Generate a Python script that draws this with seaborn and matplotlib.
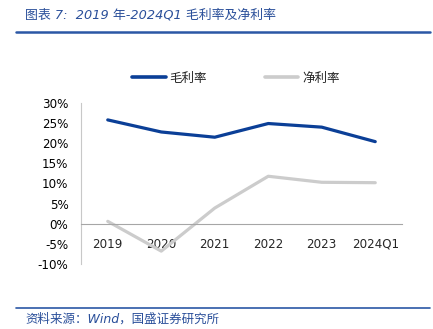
import matplotlib
matplotlib.use("Agg")
import matplotlib.pyplot as plt
from matplotlib.lines import Line2D
from matplotlib.ticker import FuncFormatter, FixedLocator
import seaborn as sns
import pandas as pd

# Margin data, 2019 - 2024Q1
periods = ["2019", "2020", "2021", "2022", "2023", "2024Q1"]
gross_margin = [0.258, 0.228, 0.215, 0.249, 0.240, 0.204]
net_margin = [0.006, -0.068, 0.039, 0.118, 0.103, 0.102]
series_names = ["毛利率", "净利率"]
series_colors = ["#0B3F97", "#CCCCCC"]
y_ticks = [-0.10, -0.05, 0.0, 0.05, 0.10, 0.15, 0.20, 0.25, 0.30]

df = pd.DataFrame({
    "period": periods * 2,
    "value": gross_margin + net_margin,
    "series": [series_names[0]] * len(periods) + [series_names[1]] * len(periods),
})

sns.set_style("white")
plt.rcParams["font.family"] = ["DejaVu Sans", "Noto Sans CJK SC"]

W, H = 433, 329
fig = plt.figure(figsize=(W / 100, H / 100), dpi=100)
ax = fig.add_axes([81 / W, 1 - 264 / H, (402 - 81) / W, (264 - 103) / H])

sns.lineplot(data=df, x="period", y="value", hue="series",
             palette=dict(zip(series_names, series_colors)),
             linewidth=2.3, ax=ax, legend=False)

ax.set_xlim(-0.5, len(periods) - 0.5)
ax.set_ylim(y_ticks[0], y_ticks[-1])
ax.set_xlabel("")
ax.set_ylabel("")

# y axis
ax.yaxis.set_major_locator(FixedLocator(y_ticks))
ax.yaxis.set_major_formatter(FuncFormatter(lambda v, p: f"{v * 100:.0f}%"))
ax.tick_params(axis="y", which="major", direction="out", length=4, width=0.8,
               color="#A6A6A6", labelsize=8.6, labelcolor="#000000", pad=5)

# x axis drawn along the zero line, with category-boundary ticks
ax.spines["bottom"].set_position(("data", 0))
ax.spines["bottom"].set_color("#A6A6A6")
ax.spines["bottom"].set_linewidth(0.8)
ax.spines["left"].set_color("#C8C8C8")
ax.spines["left"].set_linewidth(0.8)
ax.spines["top"].set_visible(False)
ax.spines["right"].set_visible(False)
ax.set_xticks(range(len(periods)))
ax.set_xticklabels(periods)
ax.xaxis.set_minor_locator(FixedLocator([i + 0.5 for i in range(len(periods) - 1)]))
ax.tick_params(axis="x", which="major", length=0, labelsize=8.6, pad=10)
ax.tick_params(axis="x", which="minor", direction="in", length=7, width=0.8,
               color="#A6A6A6")

# legend
handles = [Line2D([0], [0], color=c, lw=2.6) for c in series_colors]
fig.legend(handles, series_names, loc="center", bbox_to_anchor=(0.545, 1 - 78 / H),
           ncol=2, frameon=False, handlelength=2.7, handletextpad=0.3,
           columnspacing=4.6, prop={"family": ["Noto Sans CJK SC"], "size": 9})

# header and footer
title_color = "#2A4F9A"
fig.text(25 / W, 1 - 15 / H, "图表 7:  2019 年-2024Q1 毛利率及净利率",
         fontsize=9.3, style="italic", color=title_color, va="center", ha="left",
         family=["DejaVu Sans", "Noto Sans CJK SC"])
fig.add_artist(Line2D([16 / W, 430 / W], [1 - 32 / H, 1 - 32 / H],
                      color="#2B57A5", lw=1.8, transform=fig.transFigure))
fig.add_artist(Line2D([16 / W, 430 / W], [1 - 308 / H, 1 - 308 / H],
                      color="#2B57A5", lw=1.2, transform=fig.transFigure))
fig.text(25 / W, 1 - 319 / H, "资料来源：Wind，国盛证券研究所",
         fontsize=9, style="italic", color=title_color, va="center", ha="left",
         family=["DejaVu Sans", "Noto Sans CJK SC"])

fig.savefig("out.png", dpi=100)
